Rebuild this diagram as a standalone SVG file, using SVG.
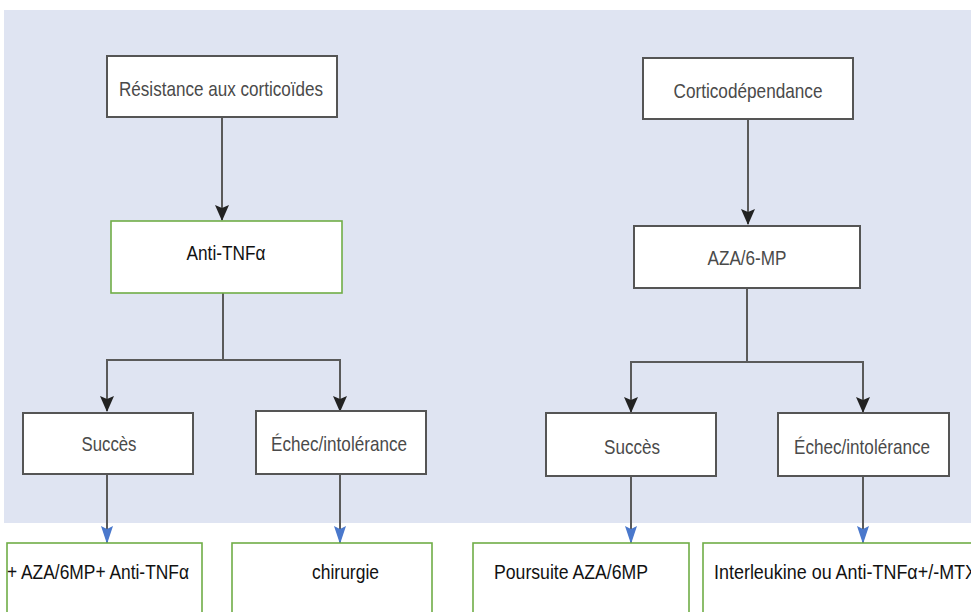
<svg xmlns="http://www.w3.org/2000/svg" width="971" height="612" viewBox="0 0 971 612">
<defs>
<style>
.bg{fill:#dfe4f2}
.box{fill:#fff;stroke:#555;stroke-width:2}
.gbox{fill:#fff;stroke:#70ad47;stroke-width:1.6}
.t{font-family:"Liberation Sans",Arial,sans-serif;font-size:21px;fill:#4a4a4a;text-anchor:middle;dominant-baseline:central}
.tb{font-family:"Liberation Sans",Arial,sans-serif;font-size:20px;fill:#111;dominant-baseline:central}
.c{fill:none;stroke:#5a5a5a;stroke-width:2}
</style>
<marker id="ak" viewBox="0 0 16 14" refX="15" refY="7" markerWidth="16" markerHeight="14" markerUnits="userSpaceOnUse" orient="auto">
<path d="M0,0 L16,7 L0,14 L3,7 z" fill="#222"/>
</marker>
<marker id="ab" viewBox="0 0 18 12" refX="17" refY="6" markerWidth="18" markerHeight="12" markerUnits="userSpaceOnUse" orient="auto">
<path d="M0,0 L18,6 L0,12 L3,6 z" fill="#4a78cc"/>
</marker>
</defs>
<rect class="bg" x="4" y="10" width="967" height="513"/>
<g id="connectors">
<path class="c" d="M222,117 V220" marker-end="url(#ak)"/>
<path class="c" d="M748,119 V224" marker-end="url(#ak)"/>
<path class="c" d="M223,293 V360 H107 V411" marker-end="url(#ak)"/>
<path class="c" d="M223,360 H340 V411" marker-end="url(#ak)"/>
<path class="c" d="M747,288 V362 H631 V412" marker-end="url(#ak)"/>
<path class="c" d="M747,362 H863 V412" marker-end="url(#ak)"/>
<path class="c" d="M107,474 V543" marker-end="url(#ab)"/>
<path class="c" d="M340,474 V543" marker-end="url(#ab)"/>
<path class="c" d="M631,476 V543" marker-end="url(#ab)"/>
<path class="c" d="M863,476 V543" marker-end="url(#ab)"/>
</g>
<g id="n-resistance">
<rect class="box" x="107" y="56" width="230" height="61"/>
<text class="t" x="221" y="88" textLength="204" lengthAdjust="spacingAndGlyphs">Résistance aux corticoïdes</text>
</g>
<g id="n-antitnf">
<rect class="gbox" x="111" y="221" width="231" height="72"/>
<text class="t" x="226" y="252" textLength="79" lengthAdjust="spacingAndGlyphs" style="fill:#111">Anti-TNFα</text>
</g>
<g id="n-cortico">
<rect class="box" x="643" y="58" width="210" height="61"/>
<text class="t" x="748" y="90" textLength="149" lengthAdjust="spacingAndGlyphs">Corticodépendance</text>
</g>
<g id="n-aza">
<rect class="box" x="634" y="226" width="226" height="62"/>
<text class="t" x="747" y="257" textLength="79" lengthAdjust="spacingAndGlyphs">AZA/6-MP</text>
</g>
<g id="n-succes1">
<rect class="box" x="23" y="413" width="170" height="61"/>
<text class="t" x="109" y="443" textLength="55" lengthAdjust="spacingAndGlyphs">Succès</text>
</g>
<g id="n-echec1">
<rect class="box" x="256" y="411" width="170" height="63"/>
<text class="t" x="339" y="443" textLength="136" lengthAdjust="spacingAndGlyphs">Échec/intolérance</text>
</g>
<g id="n-succes2">
<rect class="box" x="546" y="413" width="170" height="63"/>
<text class="t" x="632" y="446" textLength="56" lengthAdjust="spacingAndGlyphs">Succès</text>
</g>
<g id="n-echec2">
<rect class="box" x="778" y="413" width="171" height="63"/>
<text class="t" x="862" y="446" textLength="136" lengthAdjust="spacingAndGlyphs">Échec/intolérance</text>
</g>
<g id="n-aza-anti">
<rect class="gbox" x="7" y="543" width="195" height="80"/>
<text class="tb" x="7" y="572" textLength="182" lengthAdjust="spacingAndGlyphs">+ AZA/6MP+ Anti-TNFα</text>
</g>
<g id="n-chirurgie">
<rect class="gbox" x="232" y="543" width="200" height="80"/>
<text class="tb" x="312" y="572" textLength="67" lengthAdjust="spacingAndGlyphs">chirurgie</text>
</g>
<g id="n-poursuite">
<rect class="gbox" x="473" y="543" width="216" height="80"/>
<text class="tb" x="494" y="572" textLength="154" lengthAdjust="spacingAndGlyphs">Poursuite AZA/6MP</text>
</g>
<g id="n-interleukine">
<rect class="gbox" x="703" y="543" width="280" height="80"/>
<text class="tb" x="714" y="572" textLength="263" lengthAdjust="spacingAndGlyphs">Interleukine ou Anti-TNFα+/-MTX</text>
</g>
</svg>
